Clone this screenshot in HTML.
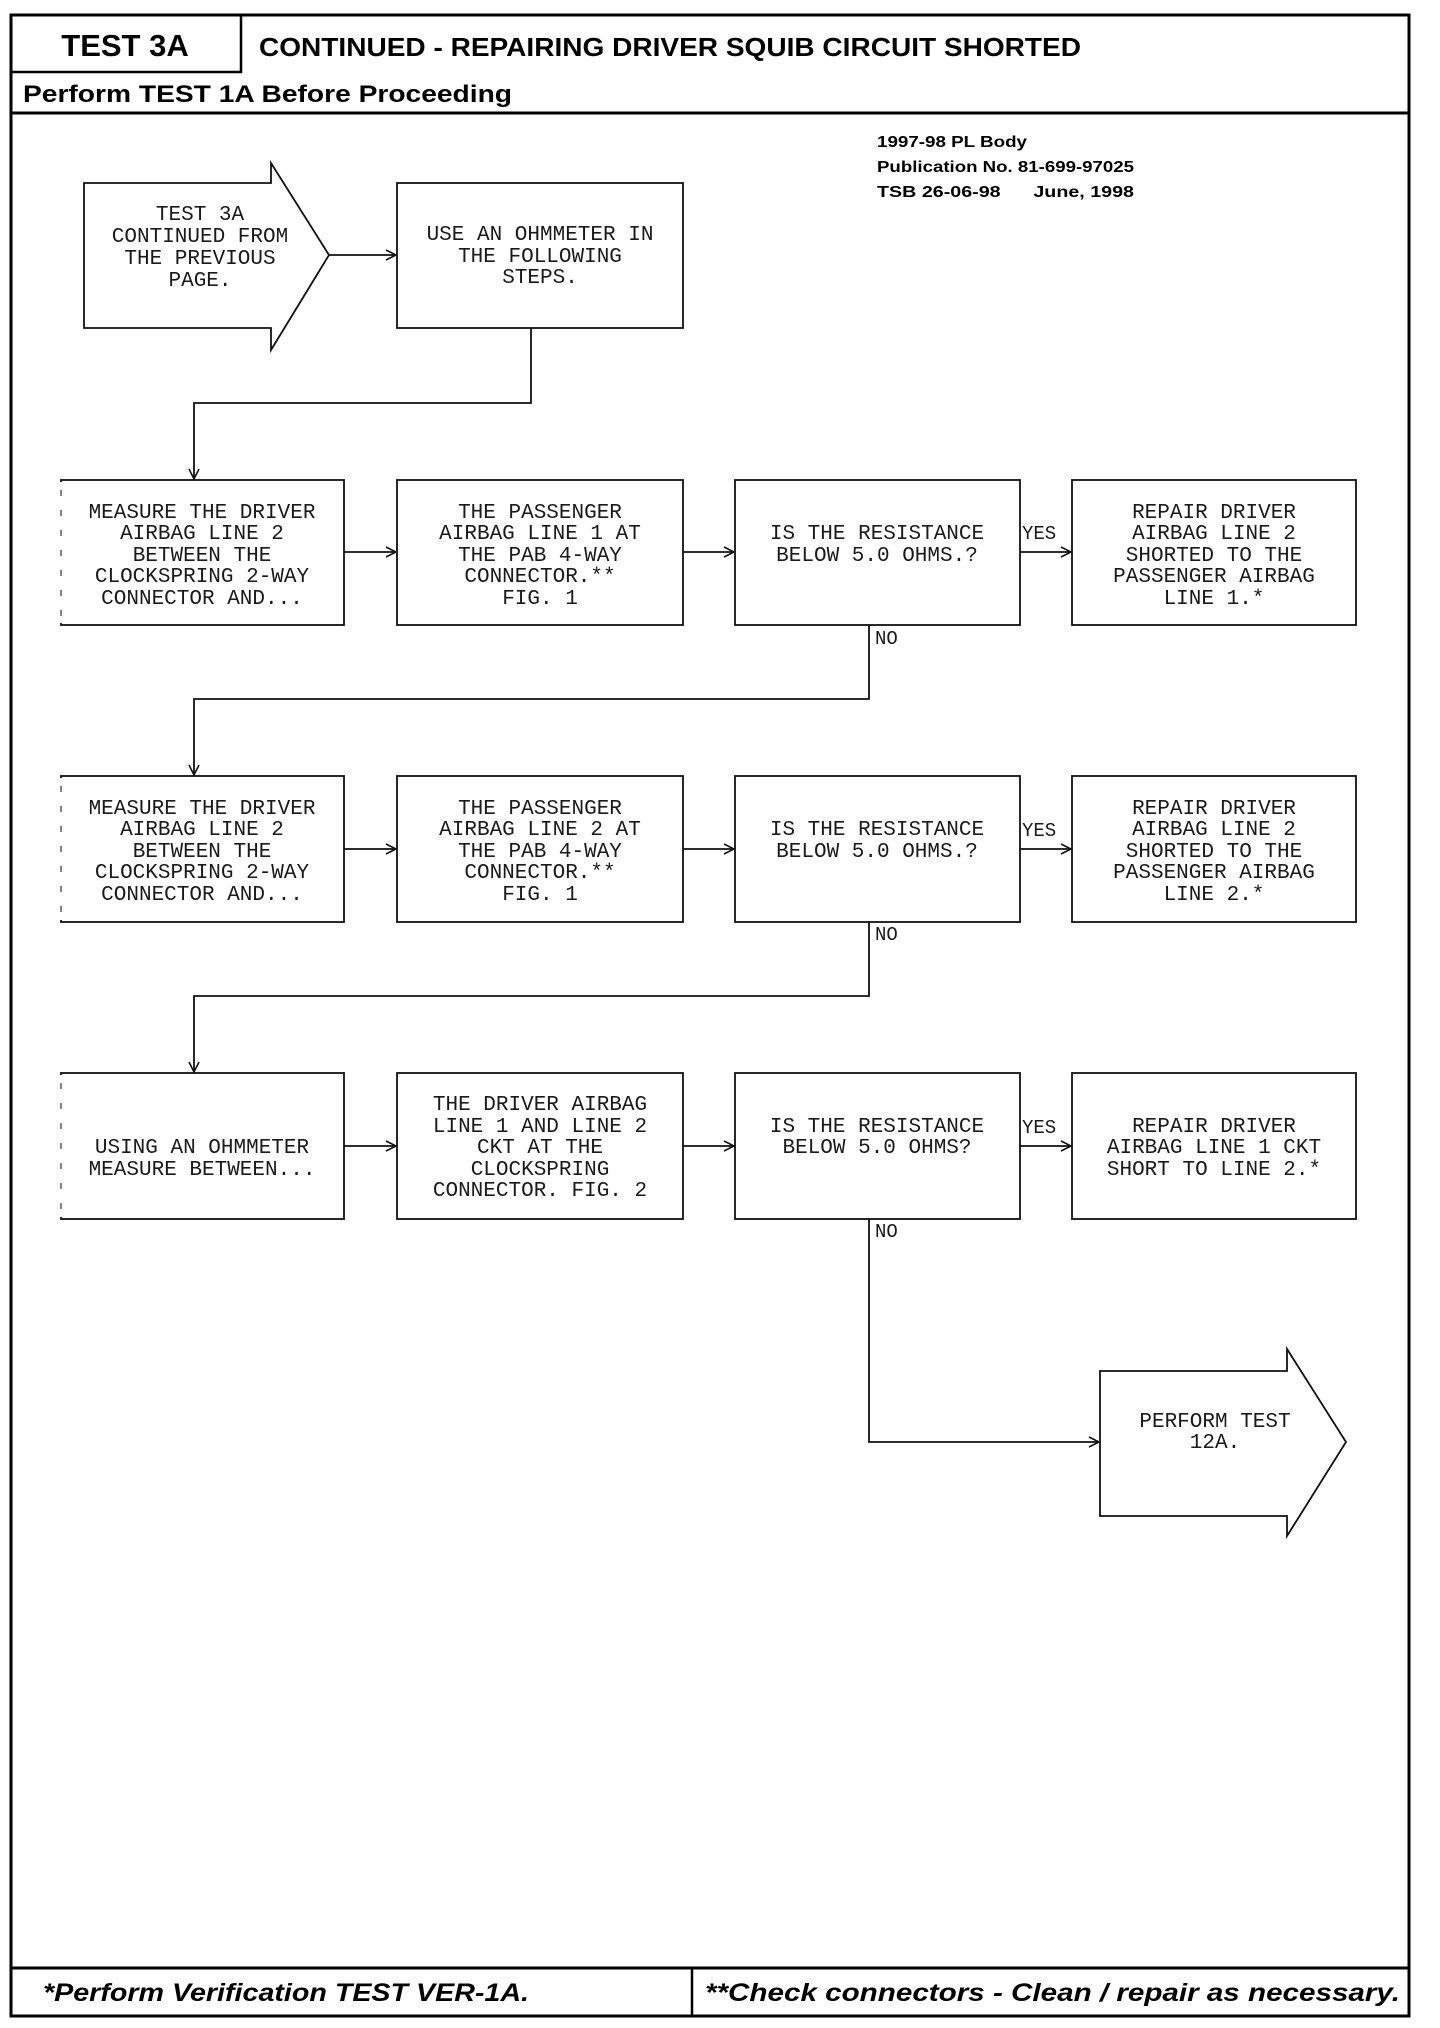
<!DOCTYPE html>
<html><head><meta charset="utf-8"><style>
html,body{margin:0;padding:0;background:#fff;}
svg{display:block;}
.m{font-family:"Liberation Mono",monospace;font-size:21px;fill:#1a1a1a;text-anchor:middle;}
.s{font-family:"Liberation Sans",Arial,sans-serif;font-weight:bold;fill:#000;}
</style></head><body>
<svg width="1440" height="2028" viewBox="0 0 1440 2028" xmlns="http://www.w3.org/2000/svg">
<defs>
<marker id="a" markerWidth="12" markerHeight="12" refX="11" refY="6" orient="auto" markerUnits="userSpaceOnUse">
<path d="M1,1 L11,6 L1,11" fill="none" stroke="#111" stroke-width="1.6"/>
</marker>
</defs>
<!-- frame -->
<rect x="11" y="15" width="1398" height="2001" fill="none" stroke="#000" stroke-width="3"/>
<rect x="11" y="15" width="230" height="57" fill="none" stroke="#000" stroke-width="2.5"/>
<line x1="11" y1="113" x2="1409" y2="113" stroke="#000" stroke-width="3"/>
<line x1="11" y1="1968" x2="1409" y2="1968" stroke="#000" stroke-width="3"/>
<line x1="692" y1="1968" x2="692" y2="2016" stroke="#000" stroke-width="2.5"/>
<!-- header text -->
<text class="s" x="125" y="56" font-size="31" text-anchor="middle">TEST 3A</text>
<text class="s" x="259" y="56" font-size="26" textLength="822" lengthAdjust="spacingAndGlyphs">CONTINUED - REPAIRING DRIVER SQUIB CIRCUIT SHORTED</text>
<text class="s" x="23" y="102" font-size="24" textLength="489" lengthAdjust="spacingAndGlyphs">Perform TEST 1A Before Proceeding</text>
<text class="s" x="877" y="147" font-size="16" textLength="150" lengthAdjust="spacingAndGlyphs">1997-98 PL Body</text>
<text class="s" x="877" y="172" font-size="16" textLength="257" lengthAdjust="spacingAndGlyphs">Publication No. 81-699-97025</text>
<text class="s" x="877" y="197" font-size="16" textLength="257" lengthAdjust="spacingAndGlyphs" xml:space="preserve">TSB 26-06-98      June, 1998</text>
<!-- footer -->
<text class="s" x="43" y="2001" font-size="25" font-style="italic" textLength="486" lengthAdjust="spacingAndGlyphs">*Perform Verification TEST VER-1A.</text>
<text class="s" x="705" y="2001" font-size="25" font-style="italic" textLength="695" lengthAdjust="spacingAndGlyphs">**Check connectors - Clean / repair as necessary.</text>

<g fill="none" stroke="#111" stroke-width="1.8">
<!-- start arrow shape -->
<polygon points="84,183 271,183 271,163 329,255 271,350 271,328 84,328"/>
<rect x="397" y="183" width="286" height="145"/>
<!-- rows -->
<rect x="61" y="480" width="283" height="145" stroke-dasharray="none"/>
<rect x="397" y="480" width="286" height="145"/>
<rect x="735" y="480" width="285" height="145"/>
<rect x="1072" y="480" width="284" height="145"/>
<rect x="61" y="776" width="283" height="146"/>
<rect x="397" y="776" width="286" height="146"/>
<rect x="735" y="776" width="285" height="146"/>
<rect x="1072" y="776" width="284" height="146"/>
<rect x="61" y="1073" width="283" height="146"/>
<rect x="397" y="1073" width="286" height="146"/>
<rect x="735" y="1073" width="285" height="146"/>
<rect x="1072" y="1073" width="284" height="146"/>
<!-- end arrow shape -->
<polygon points="1100,1371 1287,1371 1287,1349 1346,1442 1287,1536 1287,1516 1100,1516"/>
</g>
<!-- cover left edges of col A boxes to make them faint/dashed -->
<g stroke="#fff" stroke-width="3">
<line x1="61" y1="482" x2="61" y2="623"/>
<line x1="61" y1="778" x2="61" y2="920"/>
<line x1="61" y1="1075" x2="61" y2="1217"/>
</g>
<g stroke="#333" stroke-width="1.2" stroke-dasharray="6,14">
<line x1="61" y1="490" x2="61" y2="623"/>
<line x1="61" y1="786" x2="61" y2="920"/>
<line x1="61" y1="1083" x2="61" y2="1217"/>
</g>

<g fill="none" stroke="#111" stroke-width="1.8" marker-end="url(#a)">
<line x1="329" y1="255" x2="396" y2="255"/>
<polyline points="531,328 531,403 194,403 194,479"/>
<line x1="344" y1="552" x2="396" y2="552"/>
<line x1="683" y1="552" x2="734" y2="552"/>
<line x1="1020" y1="552" x2="1071" y2="552"/>
<polyline points="869,625 869,699 194,699 194,775"/>
<line x1="344" y1="849" x2="396" y2="849"/>
<line x1="683" y1="849" x2="734" y2="849"/>
<line x1="1020" y1="849" x2="1071" y2="849"/>
<polyline points="869,922 869,996 194,996 194,1072"/>
<line x1="344" y1="1146" x2="396" y2="1146"/>
<line x1="683" y1="1146" x2="734" y2="1146"/>
<line x1="1020" y1="1146" x2="1071" y2="1146"/>
<polyline points="869,1219 869,1442 1099,1442"/>
</g>

<!-- labels -->
<g class="m" style="font-size:19px;text-anchor:start">
<text x="1022" y="539">YES</text>
<text x="875" y="644">NO</text>
<text x="1022" y="836">YES</text>
<text x="875" y="940">NO</text>
<text x="1022" y="1133">YES</text>
<text x="875" y="1237">NO</text>
</g>

<!-- node text -->
<g class="m">
<text x="200" y="220">TEST 3A</text>
<text x="200" y="242">CONTINUED FROM</text>
<text x="200" y="264">THE PREVIOUS</text>
<text x="200" y="286">PAGE.</text>

<text x="540" y="240">USE AN OHMMETER IN</text>
<text x="540" y="262">THE FOLLOWING</text>
<text x="540" y="283">STEPS.</text>

<text x="202" y="518">MEASURE THE DRIVER</text>
<text x="202" y="539">AIRBAG LINE 2</text>
<text x="202" y="561">BETWEEN THE</text>
<text x="202" y="582">CLOCKSPRING 2-WAY</text>
<text x="202" y="604">CONNECTOR AND...</text>

<text x="540" y="518">THE PASSENGER</text>
<text x="540" y="539">AIRBAG LINE 1 AT</text>
<text x="540" y="561">THE PAB 4-WAY</text>
<text x="540" y="582">CONNECTOR.**</text>
<text x="540" y="604">FIG. 1</text>

<text x="877" y="539">IS THE RESISTANCE</text>
<text x="877" y="561">BELOW 5.0 OHMS.?</text>

<text x="1214" y="518">REPAIR DRIVER</text>
<text x="1214" y="539">AIRBAG LINE 2</text>
<text x="1214" y="561">SHORTED TO THE</text>
<text x="1214" y="582">PASSENGER AIRBAG</text>
<text x="1214" y="604">LINE 1.*</text>

<text x="202" y="814">MEASURE THE DRIVER</text>
<text x="202" y="835">AIRBAG LINE 2</text>
<text x="202" y="857">BETWEEN THE</text>
<text x="202" y="878">CLOCKSPRING 2-WAY</text>
<text x="202" y="900">CONNECTOR AND...</text>

<text x="540" y="814">THE PASSENGER</text>
<text x="540" y="835">AIRBAG LINE 2 AT</text>
<text x="540" y="857">THE PAB 4-WAY</text>
<text x="540" y="878">CONNECTOR.**</text>
<text x="540" y="900">FIG. 1</text>

<text x="877" y="835">IS THE RESISTANCE</text>
<text x="877" y="857">BELOW 5.0 OHMS.?</text>

<text x="1214" y="814">REPAIR DRIVER</text>
<text x="1214" y="835">AIRBAG LINE 2</text>
<text x="1214" y="857">SHORTED TO THE</text>
<text x="1214" y="878">PASSENGER AIRBAG</text>
<text x="1214" y="900">LINE 2.*</text>

<text x="202" y="1153">USING AN OHMMETER</text>
<text x="202" y="1175">MEASURE BETWEEN...</text>

<text x="540" y="1110">THE DRIVER AIRBAG</text>
<text x="540" y="1132">LINE 1 AND LINE 2</text>
<text x="540" y="1153">CKT AT THE</text>
<text x="540" y="1175">CLOCKSPRING</text>
<text x="540" y="1196">CONNECTOR. FIG. 2</text>

<text x="877" y="1132">IS THE RESISTANCE</text>
<text x="877" y="1153">BELOW 5.0 OHMS?</text>

<text x="1214" y="1132">REPAIR DRIVER</text>
<text x="1214" y="1153">AIRBAG LINE 1 CKT</text>
<text x="1214" y="1175">SHORT TO LINE 2.*</text>

<text x="1215" y="1427">PERFORM TEST</text>
<text x="1215" y="1448">12A.</text>
</g>
</svg>
</body></html>
